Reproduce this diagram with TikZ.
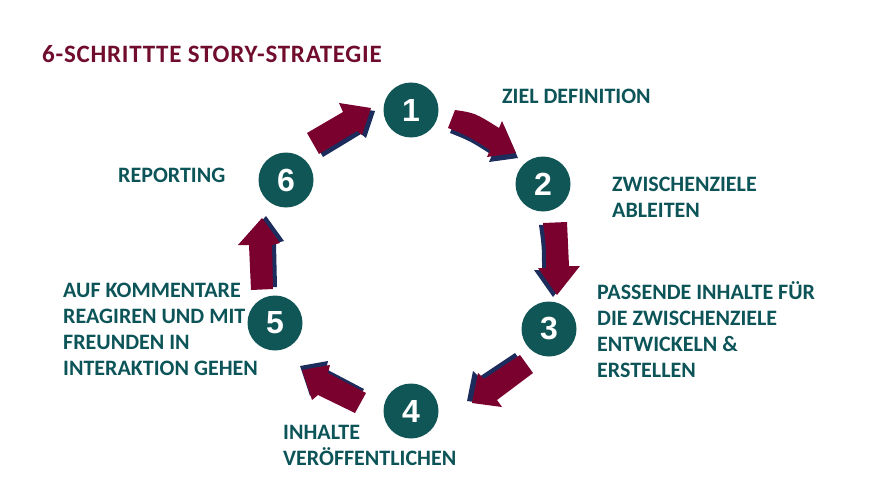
\documentclass[tikz,border=0pt]{standalone}
\usepackage{fontspec}
\setmainfont{Carlito}
\newfontfamily\digitfont{Liberation Sans}
\definecolor{maroon}{RGB}{122,0,46}
\definecolor{titlered}{RGB}{112,12,44}
\definecolor{navyshadow}{RGB}{28,44,92}
\definecolor{tealc}{RGB}{16,86,86}
\definecolor{tealtext}{RGB}{12,84,88}
\begin{document}
\begin{tikzpicture}[x=1pt,y=-1pt,
  stepcircle/.style={circle,fill=tealc,minimum size=55pt,inner sep=0pt,text=white,font=\digitfont\bfseries\fontsize{32}{32}\selectfont},
  steplabel/.style={anchor=base west,align=left,inner sep=0pt,text=tealtext,font=\bfseries\fontsize{22}{26}\selectfont},
  arrowbody/.style={fill=maroon},
  arrowshadow/.style={fill=navyshadow},
]
\path (0,0) rectangle (888,500);
\node[anchor=base west,inner sep=0pt,text=titlered,font=\bfseries\fontsize{25}{28}\selectfont\addfontfeature{LetterSpace=3}] (title) at (42,63) {6-SCHRITTTE STORY-STRATEGIE};

\node[stepcircle] (c1) at (411,110) {1};
\node[stepcircle] (c2) at (543,184) {2};
\node[stepcircle] (c3) at (549,329) {3};
\node[stepcircle] (c4) at (411,411) {4};
\node[stepcircle] (c5) at (275,323) {5};
\node[stepcircle] (c6) at (286,180) {6};

% arrow 6 -> 1
\fill[arrowshadow,shift={(4,3)}] (307,133) -- (343,112) -- (339,103) -- (371,108) -- (362,135) -- (357,131) -- (319,154) -- cycle;
\fill[arrowbody] (307,133) -- (343,112) -- (339,103) -- (371,108) -- (362,135) -- (357,131) -- (319,154) -- cycle;
% arrow 1 -> 2
\fill[arrowshadow,shift={(2,5)}] (455,110) .. controls (475,113) .. (499,128) -- (502,121) -- (516,153) -- (487,157) -- (490,150) .. controls (468,136) .. (448,128) -- cycle;
\fill[arrowbody] (455,110) .. controls (475,113) .. (499,128) -- (502,121) -- (516,153) -- (487,157) -- (490,150) .. controls (468,136) .. (448,128) -- cycle;
% arrow 2 -> 3
\fill[arrowshadow,shift={(-4,2)}] (543,223) -- (567,222) -- (569,266) -- (580,266) -- (557,295) -- (538,268) -- (546,268) .. controls (546,245) .. cycle;
\fill[arrowbody] (543,223) -- (567,222) -- (569,266) -- (580,266) -- (557,295) -- (538,268) -- (546,268) .. controls (546,245) .. cycle;
% arrow 3 -> 4
\fill[arrowshadow,shift={(-5,-2)}] (520,355) -- (533,373) -- (497,400) -- (502,407) -- (472,403) -- (478,373) -- (484,379) -- cycle;
\fill[arrowbody] (520,355) -- (533,373) -- (497,400) -- (502,407) -- (472,403) -- (478,373) -- (484,379) -- cycle;
% arrow 4 -> 5
\fill[arrowshadow,shift={(-2,-4)}] (366,393) -- (355,413) -- (318,395) -- (312,400) -- (302,370) -- (330,365) -- (328,373) -- cycle;
\fill[arrowbody] (366,393) -- (355,413) -- (318,395) -- (312,400) -- (302,370) -- (330,365) -- (328,373) -- cycle;
% arrow 5 -> 6
\fill[arrowshadow,shift={(4,-2)}] (251,290) -- (273,289) -- (272,245) -- (280,243) -- (262,218) -- (238,245) -- (249,245) -- cycle;
\fill[arrowbody] (251,290) -- (273,289) -- (272,245) -- (280,243) -- (262,218) -- (238,245) -- (249,245) -- cycle;

\node[steplabel] (l1) at (502,104) {ZIEL DEFINITION};
\node[steplabel] (l2) at (612,217) {ZWISCHENZIELE\\ABLEITEN};
\node[steplabel] (l3) at (597,377) {PASSENDE INHALTE FÜR\\DIE ZWISCHENZIELE\\ENTWICKELN \&\\ERSTELLEN};
\node[steplabel] (l4) at (283,465) {INHALTE\\VERÖFFENTLICHEN};
\node[steplabel] (l5) at (63,375) {AUF KOMMENTARE\\REAGIREN UND MIT\\FREUNDEN IN\\INTERAKTION GEHEN};
\node[steplabel] (l6) at (118,182) {REPORTING};
\end{tikzpicture}
\end{document}
